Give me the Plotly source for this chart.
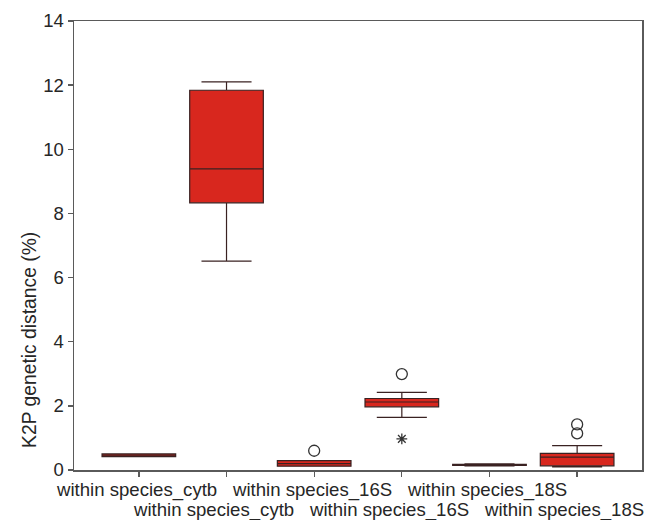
import plotly.graph_objects as go

# Data
positions = [0, 1, 2, 3, 4, 5]
labels = ["within species_cytb", "within species_cytb", "within species_16S",
          "within species_16S", "within species_18S", "within species_18S"]
lowerfence = [0.42, 6.51, 0.12, 1.64, 0.13, 0.10]
q1 =         [0.42, 8.33, 0.12, 1.97, 0.14, 0.13]
median =     [0.46, 9.39, 0.20, 2.12, 0.16, 0.40]
q3 =         [0.50, 11.84, 0.29, 2.23, 0.18, 0.52]
upperfence = [0.50, 12.10, 0.29, 2.42, 0.19, 0.76]

outlier_x = [2, 3, 5, 5]
outlier_y = [0.60, 2.99, 1.14, 1.42]
extreme_x = [3]
extreme_y = [0.97]

yticks = [0, 2, 4, 6, 8, 10, 12, 14]

FONT = "Liberation Sans, Arial, sans-serif"
TXT = "#262626"
AX = "#5a5a5a"

fig = go.Figure()
fig.add_trace(go.Box(
    x=positions, q1=q1, median=median, q3=q3,
    lowerfence=lowerfence, upperfence=upperfence,
    width=0.84, whiskerwidth=0.68,
    fillcolor="#d8271e", line=dict(color="#3a2222", width=1.2),
    boxpoints=False, showlegend=False, hoverinfo="y",
))
fig.add_trace(go.Scatter(
    x=outlier_x, y=outlier_y, mode="markers",
    marker=dict(symbol="circle-open", size=11, color="#333333", line=dict(width=1.3)),
    showlegend=False,
))
fig.add_trace(go.Scatter(
    x=extreme_x, y=extreme_y, mode="markers",
    marker=dict(symbol="asterisk-open", size=9, color="#333333", line=dict(width=1.3, color="#333333")),
    showlegend=False,
))

for i, (p, lab) in enumerate(zip(positions, labels)):
    row2 = (i % 2 == 1)
    fig.add_annotation(
        x=p, xref="x", y=0, yref="paper",
        text=lab, showarrow=False,
        xanchor="center", yanchor="middle",
        xshift=-13 if row2 else -2,
        yshift=-40 if row2 else -20,
        font=dict(family=FONT, size=18.6, color=TXT),
    )

fig.add_annotation(
    x=-0.078, xref="paper", y=0.289, yref="paper",
    text="K2P genetic distance (%)", textangle=-90, showarrow=False,
    xanchor="center", yanchor="middle",
    font=dict(family=FONT, size=19.3, color=TXT),
)

fig.update_xaxes(
    range=[-0.74, 5.74], tickvals=positions, ticktext=[""] * 6,
    ticks="outside", ticklen=5, tickcolor=AX, tickwidth=1.3,
    showline=True, linecolor=AX, linewidth=1.5, mirror=True,
    showgrid=False, zeroline=False, automargin=False,
)
fig.update_yaxes(
    range=[0, 14], tickvals=yticks, ticktext=[str(v) for v in yticks],
    ticks="outside", ticklen=5, tickcolor=AX, tickwidth=1.3,
    showline=True, linecolor=AX, linewidth=1.5, mirror=True,
    showgrid=False, zeroline=False, automargin=False,
    tickfont=dict(family=FONT, size=18.5, color=TXT),
)
fig.update_layout(
    width=658, height=520,
    margin=dict(l=74, r=16, t=21, b=50),
    paper_bgcolor="white", plot_bgcolor="white",
    font=dict(family=FONT, size=18, color=TXT),
    hovermode=False,
)
fig.write_html("out.html", config={"displayModeBar": False, "staticPlot": True},
               post_script="document.body.style.margin='0';document.body.style.overflow='hidden';")
